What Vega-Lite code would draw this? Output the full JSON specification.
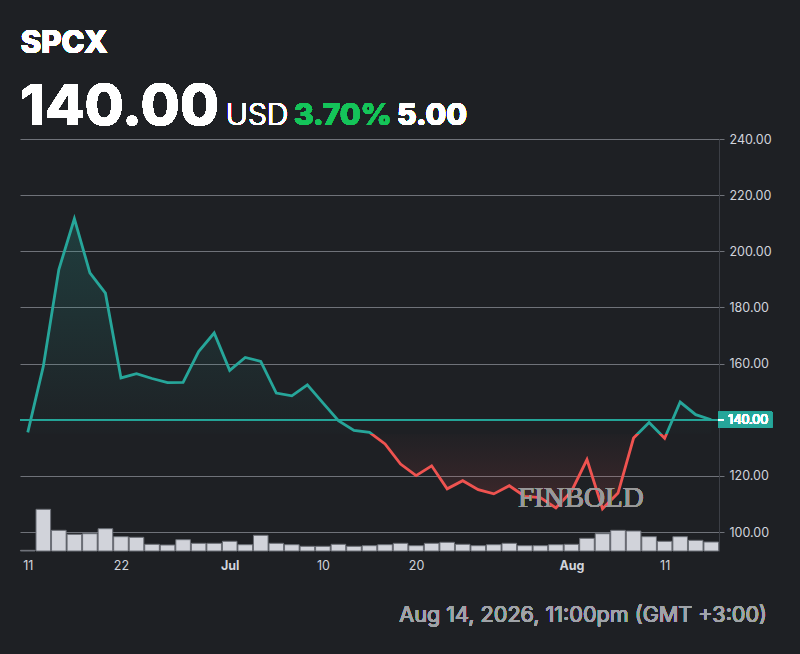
{
  "$schema": "https://vega.github.io/schema/vega-lite/v6.json",
  "width": 699,
  "height": 412,
  "autosize": {"type": "none"},
  "padding": {"left": 20, "top": 139, "right": 81, "bottom": 103},
  "background": "#1e2024",
  "config": {
    "view": {"stroke": null},
    "font": "Inter",
    "text": {"font": "Inter"}
  },
  "datasets": {
    "prices": [
      {"i": 0, "date": "2026-06-11", "close": 135.5, "volume": 0.7},
      {"i": 1, "date": "2026-06-12", "close": 159.0, "volume": 41.7},
      {"i": 2, "date": "2026-06-15", "close": 193.5, "volume": 20.7},
      {"i": 3, "date": "2026-06-16", "close": 211.6, "volume": 16.7},
      {"i": 4, "date": "2026-06-17", "close": 192.3, "volume": 17.3},
      {"i": 5, "date": "2026-06-18", "close": 185.1, "volume": 22.3},
      {"i": 6, "date": "2026-06-22", "close": 154.9, "volume": 14.3},
      {"i": 7, "date": "2026-06-23", "close": 156.4, "volume": 13.7},
      {"i": 8, "date": "2026-06-24", "close": 154.7, "volume": 6.7},
      {"i": 9, "date": "2026-06-25", "close": 153.2, "volume": 6.0},
      {"i": 10, "date": "2026-06-26", "close": 153.3, "volume": 11.3},
      {"i": 11, "date": "2026-06-29", "close": 164.3, "volume": 7.7},
      {"i": 12, "date": "2026-06-30", "close": 170.9, "volume": 7.7},
      {"i": 13, "date": "2026-07-01", "close": 157.6, "volume": 9.7},
      {"i": 14, "date": "2026-07-02", "close": 162.2, "volume": 6.3},
      {"i": 15, "date": "2026-07-06", "close": 160.8, "volume": 15.7},
      {"i": 16, "date": "2026-07-07", "close": 149.5, "volume": 7.7},
      {"i": 17, "date": "2026-07-08", "close": 148.5, "volume": 6.3},
      {"i": 18, "date": "2026-07-09", "close": 152.4, "volume": 4.7},
      {"i": 19, "date": "2026-07-10", "close": 146.0, "volume": 4.7},
      {"i": 20, "date": "2026-07-13", "close": 139.7, "volume": 6.7},
      {"i": 21, "date": "2026-07-14", "close": 136.2, "volume": 4.7},
      {"i": 22, "date": "2026-07-15", "close": 135.5, "volume": 5.3},
      {"i": 23, "date": "2026-07-16", "close": 131.4, "volume": 6.3},
      {"i": 24, "date": "2026-07-17", "close": 124.2, "volume": 7.7},
      {"i": 25, "date": "2026-07-20", "close": 120.1, "volume": 5.3},
      {"i": 26, "date": "2026-07-21", "close": 123.6, "volume": 7.7},
      {"i": 27, "date": "2026-07-22", "close": 115.4, "volume": 8.7},
      {"i": 28, "date": "2026-07-23", "close": 118.3, "volume": 6.7},
      {"i": 29, "date": "2026-07-24", "close": 115.1, "volume": 5.3},
      {"i": 30, "date": "2026-07-27", "close": 113.6, "volume": 6.3},
      {"i": 31, "date": "2026-07-28", "close": 116.5, "volume": 7.7},
      {"i": 32, "date": "2026-07-29", "close": 112.7, "volume": 5.3},
      {"i": 33, "date": "2026-07-30", "close": 112.3, "volume": 5.3},
      {"i": 34, "date": "2026-07-31", "close": 108.6, "volume": 6.3},
      {"i": 35, "date": "2026-08-03", "close": 114.5, "volume": 6.7},
      {"i": 36, "date": "2026-08-04", "close": 125.8, "volume": 12.7},
      {"i": 37, "date": "2026-08-05", "close": 108.3, "volume": 17.3},
      {"i": 38, "date": "2026-08-06", "close": 113.9, "volume": 20.7},
      {"i": 39, "date": "2026-08-07", "close": 133.5, "volume": 20.0},
      {"i": 40, "date": "2026-08-10", "close": 139.0, "volume": 14.3},
      {"i": 41, "date": "2026-08-11", "close": 133.4, "volume": 9.7},
      {"i": 42, "date": "2026-08-12", "close": 146.3, "volume": 14.3},
      {"i": 43, "date": "2026-08-13", "close": 141.8, "volume": 10.7},
      {"i": 44, "date": "2026-08-14", "close": 140.0, "volume": 9.0}
    ]
  },
  "data": {"name": "prices"},
  "resolve": {"scale": {"y": "independent"}},
  "layer": [
    {
      "mark": {"type": "bar", "size": 14.6, "fill": "#d1d3da", "stroke": "#6b6e76", "strokeWidth": 1},
      "encoding": {
        "x": {
          "field": "i",
          "type": "quantitative",
          "scale": {"domain": [-0.5, 44.5], "nice": false, "zero": false, "padding": 0},
          "axis": {
            "values": [0, 6, 13, 19, 25, 35, 41],
            "labelExpr": "{'0':'11','6':'22','13':'Jul','19':'10','25':'20','35':'Aug','41':'11'}[datum.value + '']",
            "domain": false,
            "ticks": false,
            "grid": false,
            "title": null,
            "labelFontSize": 12.5,
            "labelPadding": 8,
            "labelColor": "#d1d4dc",
            "labelFontWeight": {"condition": {"test": "datum.value == 13 || datum.value == 35", "value": "bold"}, "value": "normal"},
            "labelFlush": false
          }
        },
        "y": {
          "field": "volume",
          "type": "quantitative",
          "scale": {"domain": [0, 412], "nice": false},
          "axis": null
        }
      }
    },
    {
      "layer": [
        {
          "mark": {
            "type": "area",
            "color": {
              "gradient": "linear",
              "x1": 0, "y1": 0, "x2": 0, "y2": 1,
              "stops": [
                {"offset": 0, "color": "rgba(38,166,154,0.22)"},
                {"offset": 0.7415, "color": "rgba(38,166,154,0.01)"},
                {"offset": 0.7415, "color": "rgba(239,83,80,0.01)"},
                {"offset": 1, "color": "rgba(239,83,80,0.16)"}
              ]
            }
          },
          "encoding": {
            "x": {"field": "i", "type": "quantitative", "scale": {"domain": [-0.5, 44.5], "nice": false, "zero": false, "padding": 0}},
            "y": {
              "field": "close",
              "type": "quantitative",
              "scale": {"domain": [93.25, 240], "nice": false, "zero": false},
              "axis": {
                "orient": "right",
                "values": [100, 120, 160, 180, 200, 220, 240],
                "format": ".2f",
                "title": null,
                "grid": true,
                "gridColor": "#6f7279",
                "gridWidth": 1,
                "domain": true,
                "domainColor": "#3c3f46",
                "ticks": true,
                "tickSize": 5,
                "tickColor": "#6f7279",
                "labelPadding": 5,
                "labelFontSize": 12.5,
                "labelColor": "#d1d4dc"
              }
            },
            "y2": {"datum": 135}
          }
        },
        {
          "mark": {"type": "rule", "color": "#26a69a", "strokeWidth": 1},
          "encoding": {
            "y": {"datum": 140},
            "x": {"datum": -0.5},
            "x2": {"datum": 44.45}
          }
        },
        {
          "mark": {
            "type": "line",
            "strokeWidth": 2.8,
            "strokeJoin": "miter",
            "color": {
              "gradient": "linear",
              "x1": 0, "y1": 0, "x2": 0, "y2": 1,
              "stops": [
                {"offset": 0, "color": "#26a69a"},
                {"offset": 0.7415, "color": "#26a69a"},
                {"offset": 0.7415, "color": "#ef5350"},
                {"offset": 1, "color": "#ef5350"}
              ]
            }
          },
          "encoding": {
            "x": {"field": "i", "type": "quantitative", "scale": {"domain": [-0.5, 44.5], "nice": false, "zero": false, "padding": 0}},
            "y": {"field": "close", "type": "quantitative"}
          }
        },
        {
          "mark": {"type": "text", "text": "FINBOLD", "font": "Liberation Serif", "fontSize": 29, "align": "center", "baseline": "alphabetic", "color": "#9a9a9a", "opacity": 0.75},
          "encoding": {
            "x": {"datum": 35.6},
            "y": {"datum": 109.0}
          }
        },
        {
          "mark": {"type": "rect", "color": "#26a69a", "cornerRadius": 1},
          "encoding": {
            "x": {"datum": 44.45},
            "x2": {"datum": 47.93},
            "y": {"datum": 137.15},
            "y2": {"datum": 142.85}
          }
        },
        {
          "mark": {"type": "rule", "color": "#ffffff", "strokeWidth": 1},
          "encoding": {
            "y": {"datum": 140},
            "x": {"datum": 44.45},
            "x2": {"datum": 44.8}
          }
        },
        {
          "mark": {"type": "text", "text": "140.00", "fontSize": 12.5, "align": "left", "baseline": "middle", "color": "#ffffff"},
          "encoding": {
            "x": {"datum": 45.1},
            "y": {"datum": 140}
          }
        },
        {
          "mark": {"type": "text", "text": "SPCX", "fontSize": 31, "fontWeight": 800, "align": "left", "baseline": "alphabetic", "color": "#ffffff"},
          "encoding": {
            "x": {"datum": -0.45},
            "y": {"datum": 270.7}
          }
        },
        {
          "mark": {"type": "text", "text": "140.00", "fontSize": 57, "fontWeight": 800, "align": "left", "baseline": "alphabetic", "color": "#ffffff"},
          "encoding": {
            "x": {"datum": -0.5},
            "y": {"datum": 245.1}
          }
        },
        {
          "mark": {"type": "text", "text": "USD", "fontSize": 30, "fontWeight": 300, "align": "left", "baseline": "alphabetic", "color": "#ffffff"},
          "encoding": {
            "x": {"datum": 12.75},
            "y": {"datum": 245.1}
          }
        },
        {
          "mark": {"type": "text", "text": "3.70%", "fontSize": 30, "fontWeight": 800, "align": "left", "baseline": "alphabetic", "color": "#14c45a"},
          "encoding": {
            "x": {"datum": 17.14},
            "y": {"datum": 245.1}
          }
        },
        {
          "mark": {"type": "text", "text": "5.00", "fontSize": 30, "fontWeight": 800, "align": "left", "baseline": "alphabetic", "color": "#ffffff"},
          "encoding": {
            "x": {"datum": 23.77},
            "y": {"datum": 245.1}
          }
        },
        {
          "mark": {"type": "text", "text": "Aug 14, 2026, 11:00pm (GMT +3:00)", "fontSize": 21.6, "align": "right", "baseline": "alphabetic", "color": "#a0a3a8"},
          "encoding": {
            "x": {"datum": 47.59},
            "y": {"datum": 68.07}
          }
        }
      ]
    }
  ]
}
